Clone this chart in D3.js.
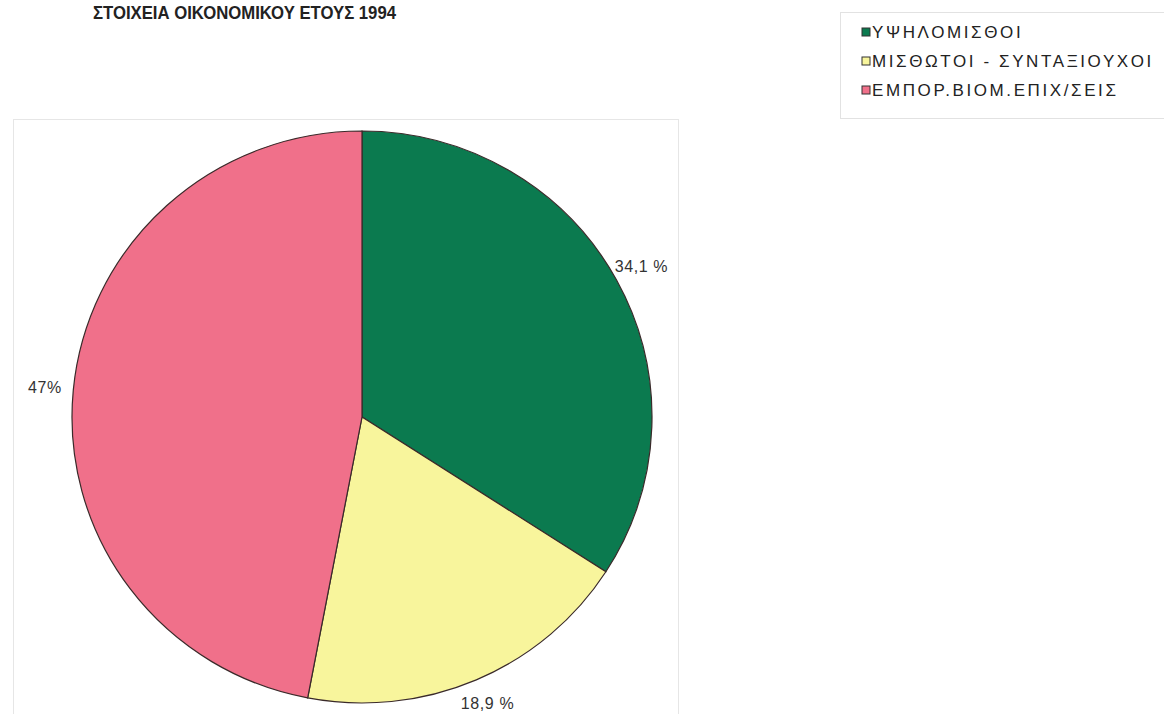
<!DOCTYPE html>
<html lang="el">

<head>
    <meta charset="UTF-8">
    <title>ΣΤΟΙΧΕΙΑ ΟΙΚΟΝΟΜΙΚΟΥ ΕΤΟΥΣ 1994</title>
    <script src="https://cdn.jsdelivr.net/npm/d3@7"></script>
    <style>
        body {
            margin: 0;
            background-color: #fff;
            font-family: Arial, "Liberation Sans", sans-serif;
        }
    </style>
</head>

<body>
</body>

<script>
    let width = 1164;
    let height = 714;

    // data
    let categories = ["ΥΨΗΛΟΜΙΣΘΟΙ", "ΜΙΣΘΩΤΟΙ - ΣΥΝΤΑΞΙΟΥΧΟΙ", "ΕΜΠΟΡ.ΒΙΟΜ.ΕΠΙΧ/ΣΕΙΣ"];
    let shares = [34.1, 18.9, 47];
    let shareLabels = ["34,1 %", "18,9 %", "47%"];
    let colours = ["#0b7a4f", "#f8f59c", "#f0708a"];

    let cx = 362, cy = 417;
    let ry = 286, rx = 290;

    let svg = d3.select("body").append("svg")
        .attr("width", width)
        .attr("height", height);

    // faint plot frame
    svg.append("rect")
        .attr("x", 13.5).attr("y", 119.5)
        .attr("width", 665).attr("height", 600)
        .attr("fill", "none")
        .attr("stroke", "#e6e6e6");

    // title
    svg.append("text")
        .attr("x", 93).attr("y", 19)
        .attr("font-size", 19)
        .attr("font-weight", "bold")
        .attr("fill", "#222")
        .attr("textLength", 303)
        .attr("lengthAdjust", "spacingAndGlyphs")
        .text("ΣΤΟΙΧΕΙΑ ΟΙΚΟΝΟΜΙΚΟΥ ΕΤΟΥΣ 1994");

    let pie = d3.pie().sort(null).value(d => d);
    let arcs = pie(shares);

    let arc = d3.arc().innerRadius(0).outerRadius(ry);

    let g = svg.append("g")
        .attr("transform", "translate(" + cx + "," + cy + ") scale(" + (rx / ry) + ",1)");

    g.selectAll("path")
        .data(arcs)
        .enter().append("path")
        .attr("d", arc)
        .attr("fill", (d, i) => colours[i])
        .attr("stroke", "#3a2a2a")
        .attr("stroke-width", 1.2)
        .attr("vector-effect", "non-scaling-stroke");

    // labels outside the slices
    let labelArc = d3.arc().innerRadius(314).outerRadius(314);
    svg.selectAll(".lbl")
        .data(arcs)
        .enter().append("text")
        .attr("class", "lbl")
        .attr("x", d => cx + labelArc.centroid(d)[0] * rx / ry)
        .attr("y", d => Math.min(cy + labelArc.centroid(d)[1], height - 11))
        .attr("dy", "0.35em")
        .attr("text-anchor", "middle")
        .attr("font-size", 16)
        .attr("letter-spacing", "0.6px")
        .attr("fill", "#333")
        .text((d, i) => shareLabels[i]);

    // legend
    let legend = svg.append("g").attr("transform", "translate(840,12)");
    legend.append("rect")
        .attr("x", 0.5).attr("y", 0.5)
        .attr("width", 330).attr("height", 106)
        .attr("fill", "#fff")
        .attr("stroke", "#e2e2e2");

    let item = legend.selectAll(".item")
        .data(categories)
        .enter().append("g")
        .attr("class", "item")
        .attr("transform", (d, i) => "translate(22," + (20 + i * 29) + ")");

    item.append("rect")
        .attr("x", 0).attr("y", -4)
        .attr("width", 8).attr("height", 8)
        .attr("fill", (d, i) => colours[i])
        .attr("stroke", "#333")
        .attr("stroke-width", 1);

    item.append("text")
        .attr("x", 10)
        .attr("dy", "0.36em")
        .attr("font-size", 17)
        .attr("letter-spacing", "2.6px")
        .attr("fill", "#222")
        .text(d => d);
</script>

</html>
